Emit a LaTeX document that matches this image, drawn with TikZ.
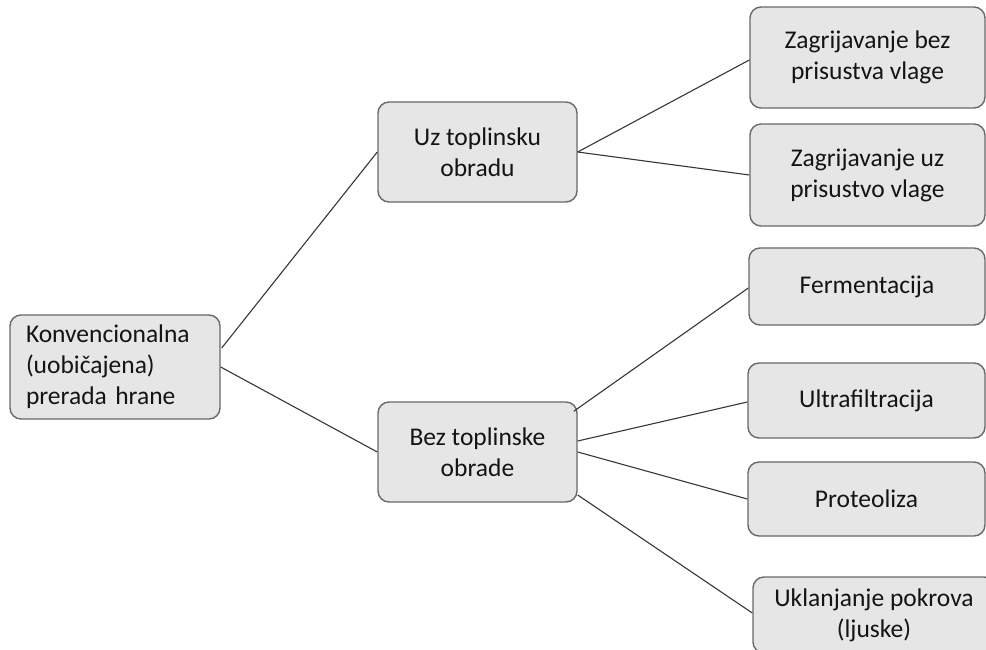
\documentclass[tikz,border=0pt]{standalone}
\usepackage{fontspec}
\setmainfont{Carlito}
\usetikzlibrary{calc}
\definecolor{boxfill}{RGB}{230,230,230}
\definecolor{boxline}{RGB}{105,105,105}
\definecolor{linkcol}{RGB}{55,55,55}
\definecolor{txtcol}{RGB}{20,20,20}
\tikzset{
  box/.style={draw=boxline, line width=1.4pt, fill=boxfill, rounded corners=11pt,
    align=center, inner sep=0pt, text=txtcol,
    font=\fontsize{25.5}{31}\selectfont},
  link/.style={draw=linkcol, line width=1.1pt}
}
\begin{document}
\begin{tikzpicture}[x=1pt,y=-1pt]
\useasboundingbox (0,0) rectangle (986,649);
\clip (0,0) rectangle (986,649);
\fill[white] (0,0) rectangle (986,649);
% connectors
\coordinate (dummy) at (0,0);
% nodes
\node[box, minimum width=210pt, minimum height=104pt, text width=178pt, align=left] (root) at (115,367)
  {Konvencionalna\\(uobičajena)\\prerada hrane};
\node[box, minimum width=199pt, minimum height=100pt] (uz) at (477.5,152) {Uz toplinsku\\obradu};
\node[box, minimum width=199pt, minimum height=100pt] (bez) at (477.5,452) {Bez toplinske\\obrade};
\node[box, minimum width=235pt, minimum height=101pt] (z1) at (867.5,57.5) {Zagrijavanje bez\\prisustva vlage};
\node[box, minimum width=235pt, minimum height=102pt] (z2) at (867.5,175) {Zagrijavanje uz\\prisustvo vlage};
\node[box, minimum width=236pt, minimum height=77pt] (ferm) at (867,286.5) {Fermentacija};
\node[box, minimum width=237pt, minimum height=75pt] (ultra) at (866.5,400.5) {Ultrafiltracija};
\node[box, minimum width=237pt, minimum height=74pt] (prot) at (866.5,499) {Proteoliza};
\node[box, minimum width=242pt, minimum height=76pt] (ukl) at (874,615) {Uklanjanje pokrova\\(ljuske)};
% connectors
\draw[link] ($(root.east)+(1,-19)$) -- (uz.west);
\draw[link] (root.east) -- (bez.west);
\draw[link] (uz.east) -- ($(z1.west)+(0,2.5)$);
\draw[link] (uz.east) -- (z2.west);
\draw[link] ($(bez.north east)+(-4,10)$) -- ($(ferm.west)+(0,1.5)$);
\draw[link] ($(bez.east)+(0,-11)$) -- ($(ultra.west)+(0,1.5)$);
\draw[link] (bez.east) -- (prot.west);
\draw[link] ($(bez.east)+(0,43)$) -- ($(ukl.west)+(0,-2)$);
\end{tikzpicture}
\end{document}
